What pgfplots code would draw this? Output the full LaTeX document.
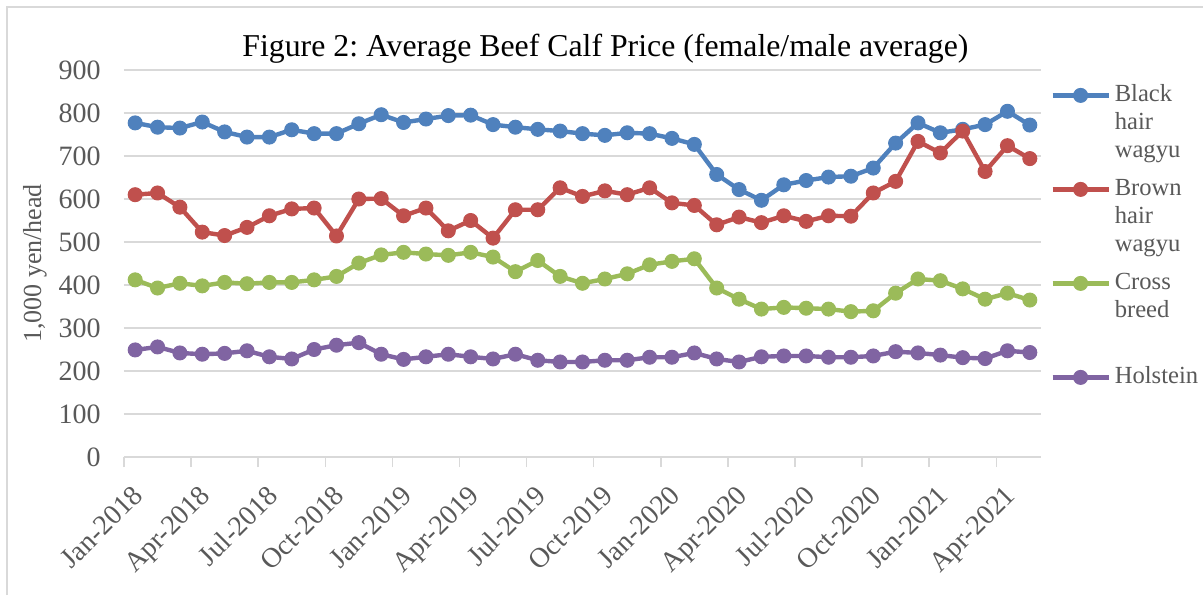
\documentclass[border=0pt]{standalone}
\usepackage{fontspec}
\setmainfont{Liberation Serif}
\usepackage{pgfplots}
\pgfplotsset{compat=1.18}
\frenchspacing
\definecolor{cblue}{HTML}{4F81BD}
\definecolor{cred}{HTML}{C0504D}
\definecolor{cgreen}{HTML}{9BBB59}
\definecolor{cpurple}{HTML}{8064A2}
\definecolor{txt}{HTML}{595959}
\definecolor{grd}{HTML}{D9D9D9}

\pgfplotstableread{
idx black brown cross holstein
0 777 610 412 249
1 767 614 393 256
2 765 581 404 242
3 779 523 398 239
4 756 515 406 241
5 744 534 403 247
6 744 561 406 233
7 761 577 406 228
8 752 579 412 250
9 752 514 420 260
10 775 600 451 266
11 796 601 470 239
12 778 561 476 227
13 786 579 472 233
14 794 526 469 239
15 795 550 476 233
16 773 509 465 228
17 767 575 431 239
18 762 575 457 225
19 758 626 420 221
20 752 606 404 221
21 748 619 414 225
22 754 610 426 225
23 752 626 447 232
24 741 591 455 232
25 727 585 461 242
26 657 540 393 228
27 622 558 367 221
28 597 545 344 233
29 633 561 348 235
30 643 548 346 235
31 651 561 344 232
32 653 560 338 232
33 672 614 340 235
34 730 641 381 245
35 777 734 414 242
36 754 707 410 237
37 762 758 391 231
38 773 664 367 229
39 804 724 381 247
40 772 694 365 243
}\datatable

\begin{document}
\begin{tikzpicture}
\useasboundingbox (-62pt,-69pt) rectangle (539.5pt,228.5pt);
\fill[white] (-62pt,-69pt) rectangle (539.5pt,228.5pt);
\draw[grd, line width=0.75pt] (-58.5pt,-69pt) -- (-58.5pt,225pt) -- (539.5pt,225pt);
\begin{axis}[
  at={(0pt,0pt)}, anchor=south west,
  scale only axis, width=458.5pt, height=193.5pt,
  xmin=-0.5, xmax=40.5, ymin=0, ymax=900,
  ytick={0,100,200,300,400,500,600,700,800,900},
  xtick={-0.5,2.5,5.5,8.5,11.5,14.5,17.5,20.5,23.5,26.5,29.5,32.5,35.5,38.5},
  xticklabels={Jan-2018,Apr-2018,Jul-2018,Oct-2018,Jan-2019,Apr-2019,Jul-2019,Oct-2019,Jan-2020,Apr-2020,Jul-2020,Oct-2020,Jan-2021,Apr-2021},
  axis line style={draw=none},
  ymajorgrids, grid style={grd, line width=0.75pt},
  xtick pos=bottom, tick align=outside,
  xtick style={grd, line width=0.75pt}, major tick length=5pt,
  ytick style={draw=none},
  /pgf/number format/assume math mode=true,
  ticklabel style={font=\fontsize{14}{16}\selectfont, text=txt},
  yticklabel style={inner sep=0pt, anchor=east, xshift=-6.5pt},
  xticklabel style={rotate=45, anchor=north east, inner sep=0pt, xshift=-3.2pt, yshift=-8.4pt},
  title={Figure 2: Average Beef Calf Price (female/male average)},
  title style={font=\fontsize{15.9}{18}\selectfont, at={(0.525,1)}, anchor=base, yshift=1pt, inner sep=0pt},
  ylabel={1,000 yen/head},
  ylabel style={font=\fontsize{13}{15}\selectfont, text=txt, at={(axis description cs:0,0.5)}, yshift=44.5pt, anchor=center},
  legend style={at={(1,1)}, anchor=north west, xshift=4.5pt, yshift=-5.7pt, draw=none, fill=none, inner sep=0pt, row sep=35.7pt, column sep=2pt, font=\fontsize{12.3}{14}\selectfont, text=txt, cells={anchor=base west}, nodes={inner sep=0pt}},
  legend image code/.code={\draw[mark repeat=2,mark phase=2,#1] plot coordinates {(0pt,3pt) (14pt,3pt) (28pt,3pt)};},
  every axis plot/.append style={line width=2.2pt, mark=*, mark size=3.5pt},
]
\addplot[cblue, mark options={fill=cblue, draw=cblue, line width=0.5pt}] table[x=idx, y=black] {\datatable};
\addlegendentry{\begin{tabular}[t]{@{}l@{}}Black\\hair\\wagyu\end{tabular}}
\addplot[cred, mark options={fill=cred, draw=cred, line width=0.5pt}] table[x=idx, y=brown] {\datatable};
\addlegendentry{\begin{tabular}[t]{@{}l@{}}Brown\\hair\\wagyu\end{tabular}}
\addplot[cgreen, mark options={fill=cgreen, draw=cgreen, line width=0.5pt}] table[x=idx, y=cross] {\datatable};
\addlegendentry{\begin{tabular}[t]{@{}l@{}}Cross\\breed\\\mbox{}\end{tabular}}
\addplot[cpurple, mark options={fill=cpurple, draw=cpurple, line width=0.5pt}] table[x=idx, y=holstein] {\datatable};
\addlegendentry{\begin{tabular}[t]{@{}l@{}}Holstein\end{tabular}}
\end{axis}
\end{tikzpicture}
\end{document}
